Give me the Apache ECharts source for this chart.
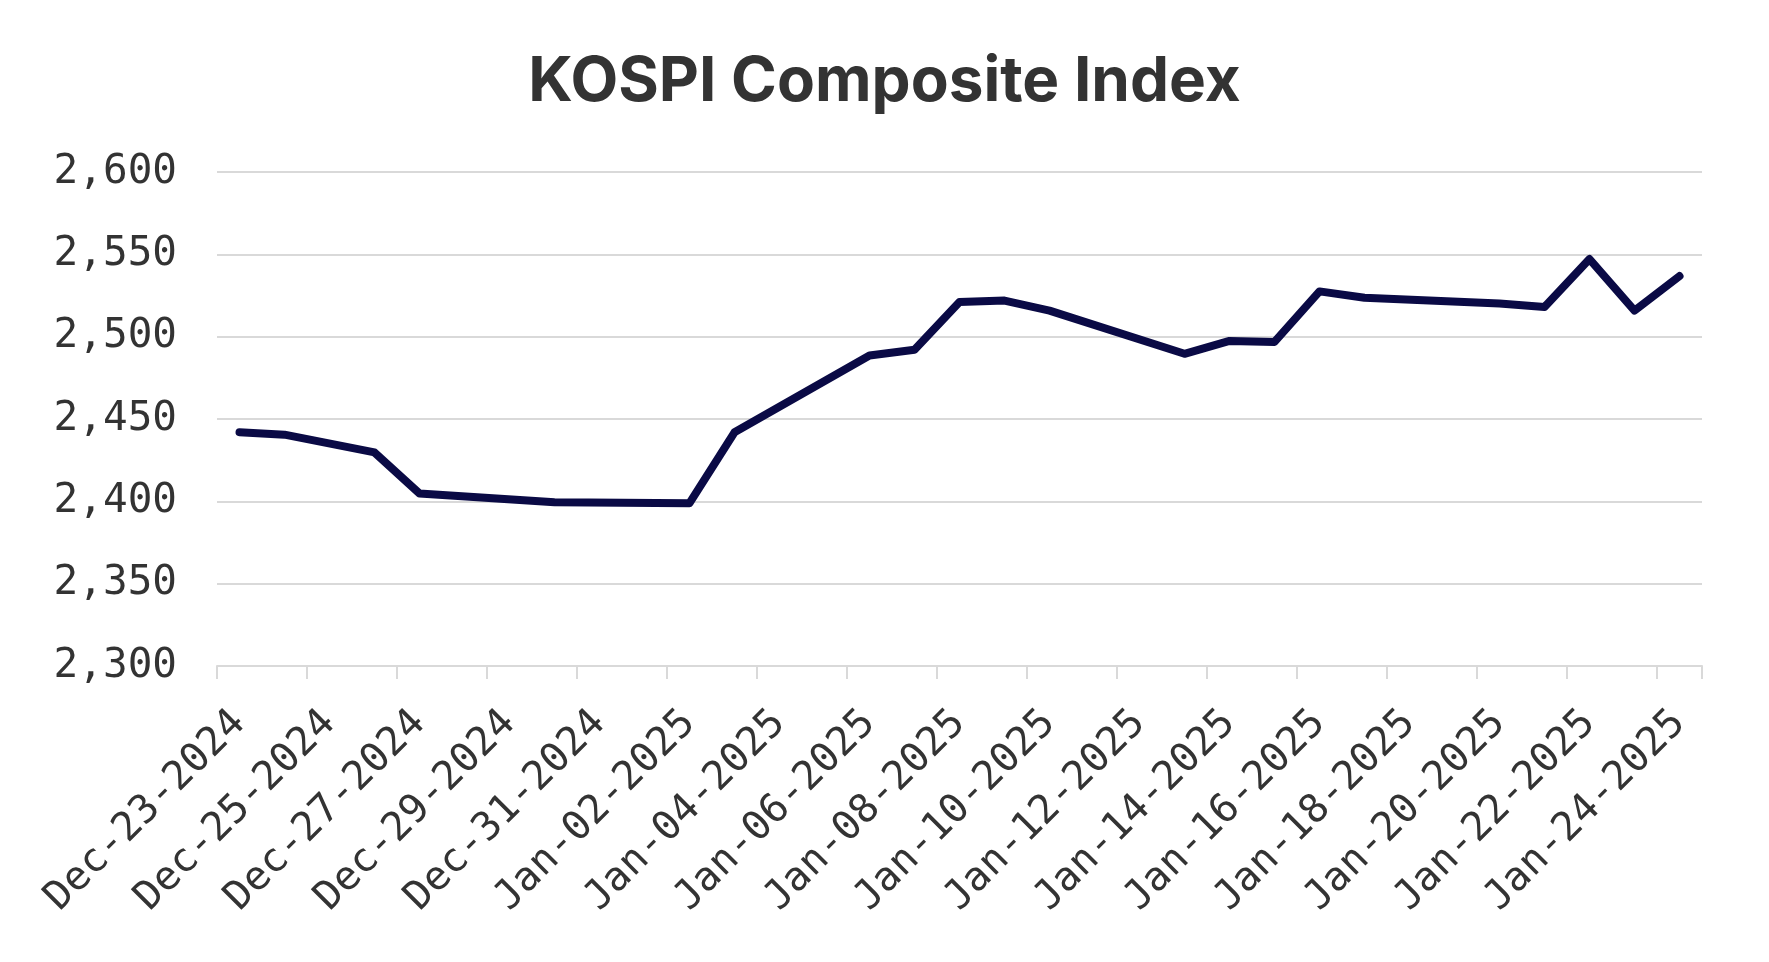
<!DOCTYPE html>
<html>
<head>
<meta charset="utf-8">
<script src="https://cdn.jsdelivr.net/npm/echarts@6/dist/echarts.min.js"></script>
<style>
  html, body { margin: 0; padding: 0; background: #ffffff; }
  #chart { width: 1769px; height: 962px; }
</style>
</head>
<body>
<div id="chart"></div>
<script>
// ---- Data ----
const chartTitle = 'KOSPI Composite Index';
const firstDay = '2024-12-23';
const lastDay = '2025-01-24';
const tradingDays = ['2024-12-23','2024-12-24','2024-12-26','2024-12-27','2024-12-30',
  '2025-01-02','2025-01-03','2025-01-06','2025-01-07','2025-01-08','2025-01-09','2025-01-10',
  '2025-01-13','2025-01-14','2025-01-15','2025-01-16','2025-01-17','2025-01-20','2025-01-21',
  '2025-01-22','2025-01-23','2025-01-24'];
const closes = [2442.0, 2440.5, 2429.7, 2404.8, 2399.5,
  2398.9, 2441.9, 2488.6, 2492.1, 2521.1, 2521.9, 2515.8,
  2489.6, 2497.4, 2496.8, 2527.5, 2523.6, 2520.1, 2518.0,
  2547.1, 2515.8, 2536.8];
const yTicks = [2300, 2350, 2400, 2450, 2500, 2550, 2600];
const monthNames = ['Jan','Feb','Mar','Apr','May','Jun','Jul','Aug','Sep','Oct','Nov','Dec'];

// ---- Build calendar categories ----
function fmt(d) {
  const dd = String(d.getUTCDate()).padStart(2, '0');
  return monthNames[d.getUTCMonth()] + '-' + dd + '-' + d.getUTCFullYear();
}
const categories = [];
for (let t = Date.parse(firstDay + 'T00:00:00Z'); t <= Date.parse(lastDay + 'T00:00:00Z'); t += 86400000) {
  categories.push(fmt(new Date(t)));
}
const seriesData = tradingDays.map((d, i) => [fmt(new Date(Date.parse(d + 'T00:00:00Z'))), closes[i]]);

const textColor = '#333333';
const gridColor = '#d9d9d9';
const monoFont = '"DejaVu Sans Mono", "Liberation Mono", monospace';

const chart = echarts.init(document.getElementById('chart'), null, { renderer: 'canvas' });
chart.setOption({
  animation: false,
  backgroundColor: '#ffffff',
  title: {
    text: chartTitle,
    left: 'center',
    top: 46,
    textStyle: { fontFamily: 'Inter, "Noto Sans", sans-serif', fontWeight: 700, fontSize: 62, color: textColor }
  },
  grid: { left: 217, right: 67, top: 172, bottom: 296, containLabel: false },
  xAxis: {
    type: 'category',
    data: categories,
    boundaryGap: true,
    axisLine: { show: true, lineStyle: { color: gridColor, width: 2 } },
    axisTick: { show: true, interval: 1, length: 13, lineStyle: { color: gridColor, width: 2 } },
    axisLabel: {
      interval: 1, rotate: 45, margin: 51,
      fontFamily: monoFont, fontSize: 40, color: textColor
    },
    splitLine: { show: false }
  },
  yAxis: {
    type: 'value',
    min: yTicks[0], max: yTicks[yTicks.length - 1], interval: 50,
    axisLine: { show: false },
    axisTick: { show: false },
    axisLabel: {
      margin: 40, fontFamily: monoFont, fontSize: 41, color: textColor,
      formatter: v => v.toLocaleString('en-US')
    },
    splitLine: { show: true, lineStyle: { color: gridColor, width: 2 } }
  },
  series: [{
    type: 'line',
    data: seriesData,
    showSymbol: false,
    symbol: 'none',
    lineStyle: { color: '#0a0a45', width: 8, cap: 'round', join: 'round' },
    z: 5
  }]
});
</script>
</body>
</html>
